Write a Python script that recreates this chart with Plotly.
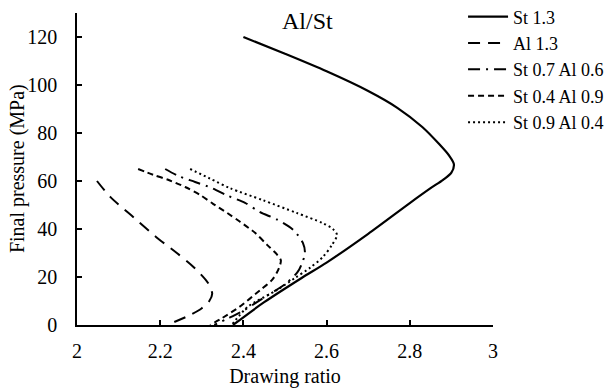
import plotly.graph_objects as go

# Drawing ratio (x) and final pressure in MPa (y) for each blank configuration
st13_x = [2.40, 2.50, 2.60, 2.70, 2.77, 2.83, 2.87, 2.895, 2.906, 2.90, 2.88, 2.85, 2.80, 2.70, 2.60, 2.54, 2.45, 2.375]
st13_y = [120, 113, 105.7, 97.5, 90.5, 82.5, 75.5, 70.5, 67, 63.5, 60.5, 57, 50.8, 38, 26, 19.6, 9.5, 0]

al13_x = [2.048, 2.08, 2.135, 2.19, 2.24, 2.28, 2.315, 2.325, 2.318, 2.30, 2.27, 2.216]
al13_y = [60, 53.4, 45, 36.7, 30, 24.2, 17.5, 13, 10, 7, 4, 0]

st07al06_x = [2.212, 2.245, 2.284, 2.325, 2.363, 2.404, 2.44, 2.48, 2.52, 2.543, 2.548, 2.541, 2.53, 2.50, 2.45, 2.40, 2.36, 2.33]
st07al06_y = [65, 62, 59.6, 57, 53.8, 50.9, 47, 44, 39.6, 34.2, 30, 25.8, 22, 17, 11.5, 6, 2.5, 0]

st04al09_x = [2.147, 2.183, 2.219, 2.26, 2.296, 2.327, 2.361, 2.392, 2.428, 2.457, 2.48, 2.49, 2.485, 2.47, 2.44, 2.39, 2.35, 2.32]
st04al09_y = [65, 62.6, 60.5, 57.5, 54.2, 50.5, 46.7, 43, 38.4, 33.4, 29.5, 27, 23.5, 19, 14.5, 7.5, 3, 0]

st09al04_x = [2.272, 2.32, 2.368, 2.447, 2.528, 2.59, 2.615, 2.625, 2.613, 2.591, 2.56, 2.524, 2.48, 2.41, 2.372]
st09al04_y = [65, 61, 57, 52, 46.7, 42.5, 40, 37.5, 33.4, 28.4, 23.8, 19.6, 14.5, 7.5, 0]

series = [
    ("St 1.3", st13_x, st13_y, "solid", 2.2),
    ("Al 1.3", al13_x, al13_y, "12px,8px", 2),
    ("St 0.7 Al 0.6", st07al06_x, st07al06_y, "12px,6px,2px,6px", 2),
    ("St 0.4 Al 0.9", st04al09_x, st04al09_y, "6px,4px", 2),
    ("St 0.9 Al 0.4", st09al04_x, st09al04_y, "2px,3px", 2),
]

FONT = "Liberation Serif, Times New Roman, serif"
INK = "black"

fig = go.Figure()
for name, xs, ys, dash, w in series:
    fig.add_trace(go.Scatter(
        x=xs, y=ys, mode="lines", name=name,
        line=dict(color="black", width=w, dash=dash, shape="spline", smoothing=0.8),
    ))

axis_common = dict(
    showline=True, linecolor="black", linewidth=1.5,
    ticks="inside", ticklen=5, tickwidth=1.5, tickcolor="black",
    showgrid=False, zeroline=False, automargin=False,
    tickfont=dict(family=FONT, size=20, color=INK),
)

fig.update_xaxes(range=[2, 3], dtick=0.2, tick0=2,
                 title=dict(text="Drawing ratio", font=dict(family=FONT, size=20, color=INK)),
                 ticklabelstandoff=7, **axis_common)
fig.update_yaxes(range=[0, 130], dtick=20, tick0=0,
                 ticklabelstandoff=14, **axis_common)

# y-axis title, placed as rotated text just left of the tick labels
fig.add_annotation(text="Final pressure (MPa)", xref="paper", yref="paper",
                   x=-0.144, y=0.5, xanchor="center", yanchor="middle", textangle=-90,
                   showarrow=False, font=dict(family=FONT, size=20, color=INK))

fig.add_annotation(text="Al/St", xref="paper", yref="paper", x=0.555, y=0.974,
                   xanchor="center", yanchor="middle",
                   showarrow=False, font=dict(family=FONT, size=24, color=INK))

fig.update_layout(
    width=608, height=388,
    margin=dict(l=77, r=115, t=13, b=63, autoexpand=False),
    plot_bgcolor="white", paper_bgcolor="white",
    legend=dict(x=0.928, y=1.047, xanchor="left", yanchor="top",
                font=dict(family=FONT, size=18, color=INK),
                itemwidth=40, bgcolor="rgba(0,0,0,0)"),
)

fig.write_html("out.html")
